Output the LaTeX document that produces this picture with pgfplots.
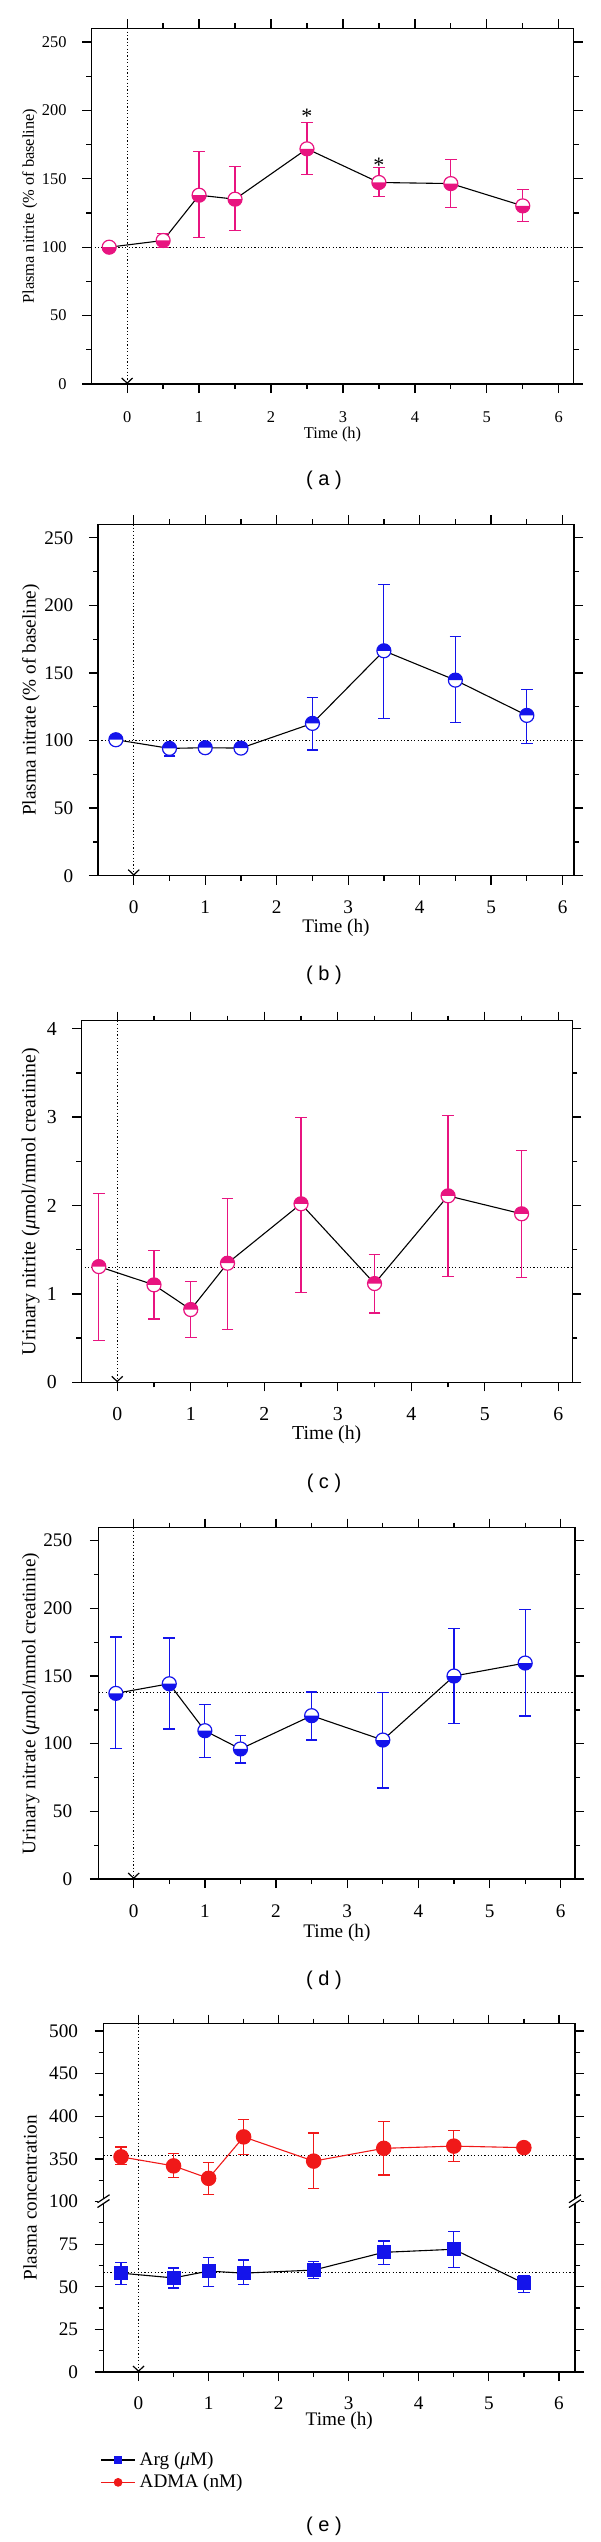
\documentclass[border=0pt]{standalone}
\usepackage{fontspec}
\setmainfont{Liberation Serif}
\newfontfamily\capfont{Liberation Sans}
\usepackage{pgfplots}
\pgfplotsset{compat=1.18}
\usepackage{pgfplotstable}
\usetikzlibrary{arrows.meta}

\definecolor{mpink}{RGB}{232,20,128}
\definecolor{mblue}{RGB}{20,20,235}
\definecolor{mred}{RGB}{240,25,25}

% half-filled circle marks
\newcommand\halfmark[4]{%
\pgfdeclareplotmark{#1}{%
  \pgfpathcircle{\pgfpointorigin}{\pgfplotmarksize}%
  \pgfsetfillcolor{white}\pgfusepathqfill
  \pgfpathmoveto{\pgfqpoint{#4\pgfplotmarksize}{0pt}}%
  \pgfpatharc{#2}{#3}{\pgfplotmarksize}%
  \pgfpathclose
  \pgfsetfillcolor{#1col}\pgfusepathqfill
  \pgfpathcircle{\pgfpointorigin}{\pgfplotmarksize}%
  \pgfsetstrokecolor{#1col}\pgfusepathqstroke}}
\colorlet{pinkdowncol}{mpink}
\colorlet{pinkupcol}{mpink}
\colorlet{bluedowncol}{mblue}
\colorlet{blueupcol}{mblue}
\halfmark{pinkdown}{180}{360}{-}
\halfmark{pinkup}{0}{180}{}
\halfmark{bluedown}{180}{360}{-}
\halfmark{blueup}{0}{180}{}

\pgfplotstableread{
x y ep em
-0.25 100.0 0 0
0.5 104.9 5.4 5.1
1.0 138.0 31.7 31.1
1.5 135.1 23.9 22.9
2.5 171.9 19.4 18.8
3.5 147.3 10.7 10.5
4.5 146.5 17.8 17.7
5.5 130.2 12.0 11.7
}\tabA
\pgfplotstableread{
x y ep em
-0.25 100.6 0 0
0.5 94.2 3.0 5.7
1.0 94.7 3.0 3.5
1.5 94.4 3.0 3.5
2.5 112.7 19.2 19.7
3.5 166.4 49.3 49.8
4.5 144.7 32.1 31.5
5.5 118.6 19.4 20.7
}\tabB
\pgfplotstableread{
x y ep em
-0.25 1.309 0.827 0.837
0.5 1.102 0.392 0.385
1.0 0.823 0.313 0.317
1.5 1.347 0.728 0.751
2.5 2.019 0.977 1.000
3.5 1.117 0.328 0.332
4.5 2.109 0.910 0.909
5.5 1.906 0.713 0.721
}\tabC
\pgfplotstableread{
x y ep em
-0.25 137.2 41.6 40.6
0.5 144.3 33.8 33.5
1.0 109.6 19.4 19.7
1.5 96.1 9.8 10.4
2.5 120.7 17.5 18.0
3.5 102.7 35.2 35.5
4.5 150.0 35.2 35.0
5.5 159.6 39.7 39.2
}\tabD
% ADMA (nM), plotted on the broken axis: position = 100 + (value-300)/2
% values: 352.4 341.8 327.2 375.9 347.5 362.5 365.0 363.3
\pgfplotstableread{
x y ep em
-0.25 126.2 5.8 4.7
0.5 120.9 7.5 6.9
1.0 113.6 9.5 9.3
1.5 137.9 10.2 10.1
2.5 123.7 16.5 16.2
3.5 131.2 15.8 15.6
4.5 132.5 9.1 9.2
5.5 131.6 0 0
}\tabADMA
% Arg (uM)
\pgfplotstableread{
x y ep em
-0.25 58.0 6.3 6.7
0.5 55.2 5.8 5.9
1.0 59.2 8.1 8.9
1.5 58.0 7.7 6.7
2.5 59.8 5.1 5.0
3.5 70.2 6.7 6.9
4.5 72.0 10.2 10.5
5.5 52.1 4.7 5.4
}\tabArg

\tikzset{
  dots/.style={line width=0.6pt, dash pattern=on 0.6pt off 1.1pt},
  vline/.style={dots, -{Straight Barb[length=2.6pt, width=5.5pt, line width=0.6pt]}},
}
\pgfplotsset{
  panel/.style n args={3}{
    scale only axis, anchor=south west, clip=false,
    xmin=-0.5, xtick={0,...,6}, minor x tick num=1, minor y tick num=1,
    tick align=outside, major tick length=4.5pt, minor tick length=2.5pt,
    axis line style={line width=0.65pt},
    every tick/.append style={black, line width=0.65pt},
    font=\fontsize{#1}{#1}\selectfont,
    /pgf/number format/assume math mode=true,
    xticklabel style={yshift=#2},
    yticklabel style={xshift=#3},
    xlabel={Time (h)},
  },
  dataline/.style={black, line width=0.55pt, mark size=3.5pt, mark options={line width=0.6pt}},
  errs/.style={error bars/.cd, y dir=both, y explicit,
     error bar style={#1, line width=0.6pt},
     error mark options={#1, line width=0.6pt, mark size=2.9pt, rotate=90}},
}

\begin{document}
\begin{tikzpicture}
\path[use as bounding box] (0,0) rectangle (300pt,-1271pt);

% ---------- (a)
\begin{axis}[panel={8.2}{-5.7pt}{-4.3pt}, at={(45.6pt,-192pt)}, width=241.3pt, height=177.85pt,
  xmax=6.21, ymin=0, ymax=260, ytick={0,50,...,250},
  xlabel style={at={(axis description cs:0.5,-0.143)}, anchor=center},
  ylabel style={at={(axis description cs:-0.127,0.5)}, anchor=center},
  ylabel={Plasma nitrite (\% of baseline)}]
\draw[vline] (axis cs:0,260) -- (axis cs:0,0);
\draw[dots] (axis cs:-0.5,100) -- (axis cs:6.21,100);
\addplot[dataline, mark=pinkdown, errs=mpink] table[x=x, y=y, y error plus=ep, y error minus=em] {\tabA};
\node[font=\fontsize{11}{11}\selectfont] at (axis cs:2.5,196) {*};
\node[font=\fontsize{11}{11}\selectfont] at (axis cs:3.5,160) {*};
\end{axis}
\node[font=\capfont\fontsize{10}{12}\selectfont] at (162pt,-240pt) {( a )};

% ---------- (b)
\begin{axis}[panel={9.6}{-4.7pt}{-4.4pt}, at={(49pt,-437.85pt)}, width=238pt, height=175.7pt,
  xmax=6.16, ymin=0, ymax=260, ytick={0,50,...,250},
  xlabel style={at={(axis description cs:0.5,-0.148)}, anchor=center},
  ylabel style={at={(axis description cs:-0.141,0.5)}, anchor=center},
  ylabel={Plasma nitrate (\% of baseline)}]
\draw[vline] (axis cs:0,260) -- (axis cs:0,0);
\draw[dots] (axis cs:-0.5,100) -- (axis cs:6.16,100);
\addplot[dataline, mark=blueup, errs=mblue] table[x=x, y=y, y error plus=ep, y error minus=em] {\tabB};
\end{axis}
\node[font=\capfont\fontsize{10}{12}\selectfont] at (162pt,-487.5pt) {( b )};

% ---------- (c)
\begin{axis}[panel={9.9}{-4.5pt}{-4.2pt}, at={(40.6pt,-691.15pt)}, width=245.55pt, height=180.8pt,
  xmin=-0.49, xmax=6.19, ymin=0, ymax=4.09, ytick={0,...,4},
  xlabel style={at={(axis description cs:0.5,-0.146)}, anchor=center},
  ylabel style={at={(axis description cs:-0.103,0.5)}, anchor=center},
  ylabel={Urinary nitrite (\textit{μ}mol/mmol creatinine)}]
\draw[vline] (axis cs:0,4.09) -- (axis cs:0,0);
\draw[dots] (axis cs:-0.49,1.298) -- (axis cs:6.19,1.298);
\addplot[dataline, mark=pinkup, errs=mpink] table[x=x, y=y, y error plus=ep, y error minus=em] {\tabC};
\end{axis}
\node[font=\capfont\fontsize{10}{12}\selectfont] at (162pt,-741.5pt) {( c )};

% ---------- (d)
\begin{axis}[panel={9.6}{-4.7pt}{-5.3pt}, at={(49.4pt,-939.5pt)}, width=238.1pt, height=175.65pt,
  xmin=-0.49, xmax=6.2, ymin=0, ymax=259.6, ytick={0,50,...,250},
  xlabel style={at={(axis description cs:0.5,-0.153)}, anchor=center},
  ylabel style={at={(axis description cs:-0.143,0.5)}, anchor=center},
  ylabel={Urinary nitrate (\textit{μ}mol/mmol creatinine)}]
\draw[vline] (axis cs:0,259.6) -- (axis cs:0,0);
\draw[dots] (axis cs:-0.49,137.9) -- (axis cs:6.2,137.9);
\addplot[dataline, mark=bluedown, errs=mblue] table[x=x, y=y, y error plus=ep, y error minus=em] {\tabD};
\end{axis}
\node[font=\capfont\fontsize{10}{12}\selectfont] at (162pt,-990pt) {( d )};

% ---------- (e)
\begin{axis}[panel={9.6}{-4.2pt}{-4.7pt}, at={(51.75pt,-1186pt)}, width=235.75pt, height=174.25pt,
  xmin=-0.5, xmax=6.23, ymin=0, ymax=204.4,
  ytick={0,25,50,75,100,125,150,175,200},
  yticklabels={0,25,50,75,100,350,400,450,500},
  xlabel style={at={(axis description cs:0.5,-0.141)}, anchor=center},
  ylabel style={at={(axis description cs:-0.156,0.5)}, anchor=center},
  ylabel={Plasma concentration},
  legend style={at={(axis description cs:-0.02,-0.205)}, anchor=north west, draw=none, fill=none,
    font=\fontsize{9.6}{11}\selectfont, row sep=-1pt},
  legend cell align=left]
\coordinate (bl) at (axis cs:-0.5,100);
\coordinate (br) at (axis cs:6.23,100);
\draw[vline] (axis cs:0,204.4) -- (axis cs:0,0);
\draw[dots] (axis cs:-0.5,127.2) -- (axis cs:6.23,127.2);
\draw[dots] (axis cs:-0.5,58.4) -- (axis cs:6.23,58.4);
\addplot[forget plot, black, line width=0.55pt, mark=square*, mark size=3.2pt, mark options={mblue, draw=mblue}, errs=mblue] table[x=x, y=y, y error plus=ep, y error minus=em] {\tabArg};
\addplot[forget plot, mred, line width=0.55pt, mark=*, mark size=3.6pt, mark options={mred, draw=mred}, errs=mred] table[x=x, y=y, y error plus=ep, y error minus=em] {\tabADMA};
\addlegendimage{black, line width=0.55pt, mark=square*, mark size=1.6pt, mark options={mblue, draw=mblue}}
\addlegendentry{Arg (\textit{μ}M)}
\addlegendimage{mred, line width=0.55pt, mark=*, mark size=1.9pt, mark options={mred, draw=mred}}
\addlegendentry{ADMA (nM)}
\end{axis}
\foreach \c in {bl,br}{
  \fill[white] ([xshift=-3pt,yshift=-1.1pt]\c) rectangle ([xshift=3pt,yshift=1.3pt]\c);
  \draw[line width=0.6pt] ([xshift=-3pt,yshift=-3pt]\c) -- ++(6pt,4pt);
  \draw[line width=0.6pt] ([xshift=-3pt,yshift=-0.6pt]\c) -- ++(6pt,4pt);
}
\node[font=\capfont\fontsize{10}{12}\selectfont] at (162pt,-1263pt) {( e )};
\end{tikzpicture}
\end{document}
